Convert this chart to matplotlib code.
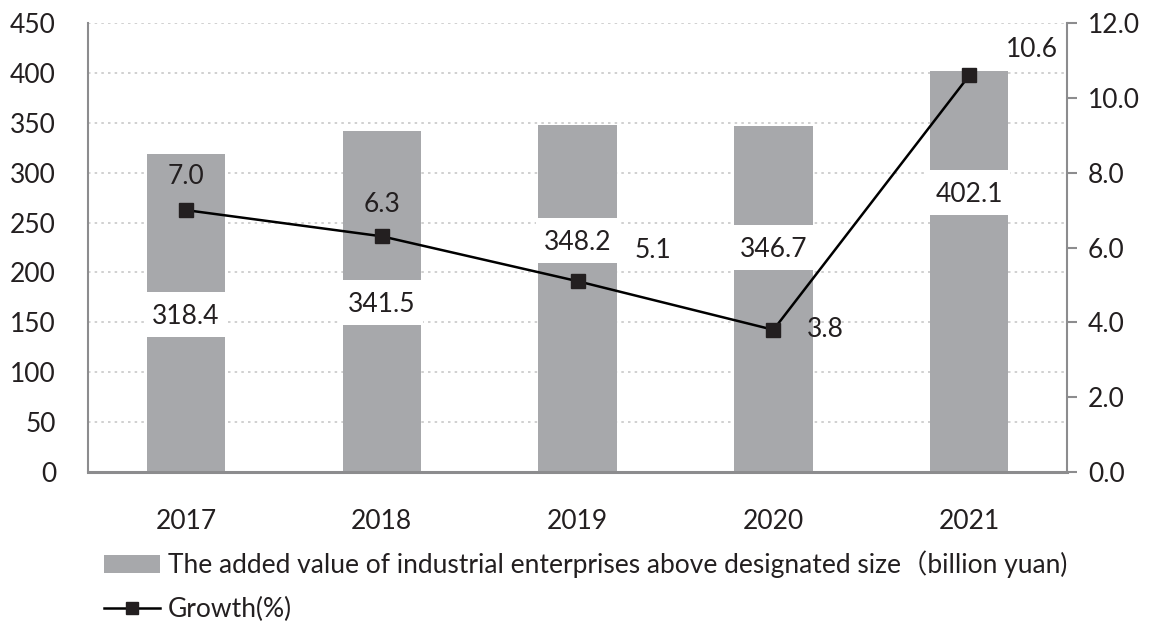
import matplotlib
matplotlib.use("Agg")
import matplotlib.pyplot as plt
from matplotlib.patches import Rectangle
from matplotlib.lines import Line2D
from matplotlib.patches import Patch

years = ["2017", "2018", "2019", "2020", "2021"]
added_value = [318.4, 341.5, 348.2, 346.7, 402.1]
growth = [7.0, 6.3, 5.1, 3.8, 10.6]
left_ticks = [0, 50, 100, 150, 200, 250, 300, 350, 400, 450]
right_ticks = [0.0, 2.0, 4.0, 6.0, 8.0, 10.0, 12.0]

# layout (label box centres as fraction of bar height, growth label offsets in points)
label_frac = [0.496, 0.498, 0.666, 0.650, 0.696]
growth_offsets = [(0, 24), (0, 23), (54, 22), (37, 0), (45, 19)]

plt.rcParams['font.family'] = ['Lato', 'Noto Sans CJK SC', 'DejaVu Sans']
text_color = '#231f20'
bar_color = '#a7a8ab'
axis_color = '#8c8c8e'
fs = 19

fig = plt.figure(figsize=(11.5, 6.23), dpi=100)
ax = fig.add_axes([0.0765, 0.2424, 0.8515, 0.7206])
x = list(range(len(years)))
bw = 0.40
ax.bar(x, added_value, width=bw, color=bar_color, zorder=2)
ax.set_ylim(0, 450)
ax.set_xlim(-0.5, len(years) - 0.5)
ax.set_yticks(left_ticks)
ax.yaxis.grid(True, linestyle=(0, (1.5, 2.5)), color='#c8c8c8', linewidth=1.2, zorder=0)
ax.set_axisbelow(True)
ax.tick_params(axis='y', length=0, labelsize=fs, colors=text_color, pad=23)
ax.tick_params(axis='x', length=0, labelsize=fs, colors=text_color, pad=27)
ax.set_xticks(x)
ax.set_xticklabels(years)
for s in ['top', 'right']:
    ax.spines[s].set_visible(False)
ax.spines['left'].set_color(axis_color)
ax.spines['left'].set_linewidth(1.5)
ax.spines['bottom'].set_color(axis_color)
ax.spines['bottom'].set_linewidth(2.2)

# white label boxes with value labels
box_h = 45
for i, (v, f) in enumerate(zip(added_value, label_frac)):
    cy = v * f
    ax.add_patch(Rectangle((i - bw / 2 - 0.01, cy - box_h / 2), bw + 0.02, box_h,
                           facecolor='white', edgecolor='none', zorder=3))
    ax.text(i, cy - 2, f"{v:.1f}", ha='center', va='center', fontsize=fs,
            color=text_color, zorder=4)

ax2 = ax.twinx()
ax2.set_ylim(0, 12)
ax2.set_yticks(right_ticks)
ax2.set_yticklabels([f"{t:.1f}" for t in right_ticks])
ax2.plot(x, growth, color='black', linewidth=1.8, marker='s', markersize=10,
         markerfacecolor='#231f20', markeredgecolor='#231f20', zorder=5)
for i, (g, off) in enumerate(zip(growth, growth_offsets)):
    ax2.annotate(f"{g:.1f}", (i, g), xytext=off, textcoords='offset points',
                 ha='center', va='center', fontsize=fs, color=text_color)
for s in ['top', 'left', 'bottom']:
    ax2.spines[s].set_visible(False)
ax2.spines['right'].set_color(axis_color)
ax2.spines['right'].set_linewidth(1.5)
ax2.tick_params(axis='y', direction='out', length=7, width=1.5, color=axis_color,
                labelsize=fs, labelcolor=text_color, pad=8)

handles = [Patch(facecolor=bar_color, edgecolor='none'),
           Line2D([0], [0], color='black', linewidth=1.8, marker='s', markersize=9,
                  markerfacecolor='#231f20', markeredgecolor='#231f20')]
labels = ["The added value of industrial enterprises above designated size（billion yuan)",
          "Growth(%)"]
fig.legend(handles, labels, loc='upper left', bbox_to_anchor=(0.09, 0.116),
           frameon=False, fontsize=fs, labelcolor=text_color, handlelength=2.15,
           handleheight=0.7, handletextpad=0.3, labelspacing=0.7, borderaxespad=0,
           borderpad=0)

fig.savefig("out.png", dpi=100)
